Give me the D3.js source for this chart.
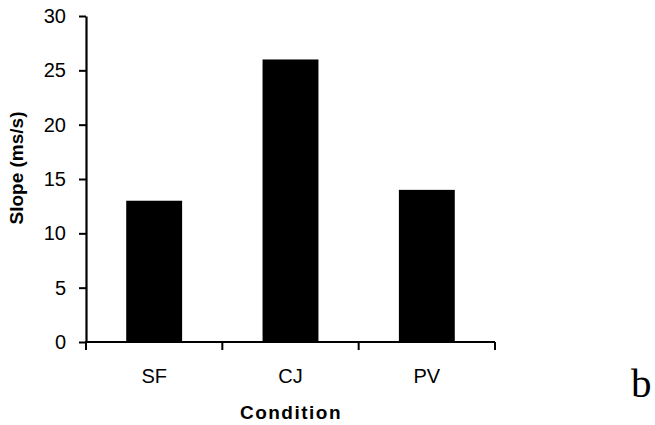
<!DOCTYPE html>
<html>
<head>
<meta charset="utf-8">
<script src="https://cdn.jsdelivr.net/npm/d3@7/dist/d3.min.js"></script>
<style>
  html, body { margin: 0; padding: 0; background: #fff; }
  svg { display: block; }
</style>
</head>
<body>
<script>
// Slope per condition
const categories = ["SF", "CJ", "PV"];
const slopes = [13, 26, 14];
const yTicks = [0, 5, 10, 15, 20, 25, 30];

const W = 655, H = 425;
const plot = { left: 86, right: 495, top: 16, bottom: 342 };

const svg = d3.select("body").append("svg")
  .attr("width", W).attr("height", H);

const x = d3.scaleBand()
  .domain(categories)
  .range([plot.left, plot.right])
  .paddingInner(0.59)
  .paddingOuter(0.295);

const y = d3.scaleLinear()
  .domain([0, 30])
  .range([plot.bottom, plot.top]);

// Bars
svg.append("g").selectAll("rect")
  .data(categories)
  .join("rect")
  .attr("x", d => x(d))
  .attr("width", x.bandwidth())
  .attr("y", (d, i) => y(slopes[i]))
  .attr("height", (d, i) => y(0) - y(slopes[i]))
  .attr("fill", "#000");

const font = "Arial, 'Liberation Sans', sans-serif";

// Y axis
const yAxis = svg.append("g")
  .attr("transform", `translate(${plot.left},0)`)
  .call(d3.axisLeft(y).tickValues(yTicks).tickSize(7).tickPadding(13).tickSizeOuter(0));
yAxis.select(".domain").attr("stroke", "#000").attr("stroke-width", 2.2);
yAxis.selectAll(".tick line").attr("stroke", "#000").attr("stroke-width", 2);
yAxis.selectAll(".tick text")
  .attr("fill", "#000")
  .style("font-family", font)
  .style("font-size", "20px");

// X axis: ticks at category boundaries
const xAxis = svg.append("g")
  .attr("transform", `translate(0,${y(0)})`);
xAxis.append("line")
  .attr("x1", plot.left - 1).attr("x2", plot.right)
  .attr("stroke", "#000").attr("stroke-width", 2.2);
const boundaries = d3.range(categories.length + 1)
  .map(i => plot.left + i * (plot.right - plot.left) / categories.length);
xAxis.selectAll("line.tk")
  .data(boundaries)
  .join("line")
  .attr("class", "tk")
  .attr("x1", d => d).attr("x2", d => d)
  .attr("y1", 0).attr("y2", 8)
  .attr("stroke", "#000").attr("stroke-width", 2);
xAxis.selectAll("text")
  .data(categories)
  .join("text")
  .attr("x", d => x(d) + x.bandwidth() / 2)
  .attr("y", 41)
  .attr("text-anchor", "middle")
  .style("font-family", font)
  .style("font-size", "20px")
  .text(d => d);

// Axis titles
svg.append("text")
  .attr("x", 291).attr("y", 419)
  .attr("text-anchor", "middle")
  .style("font-family", font)
  .style("font-weight", "bold")
  .style("font-size", "19px")
  .style("letter-spacing", "1.5px")
  .text("Condition");

svg.append("text")
  .attr("transform", "translate(23,168) rotate(-90)")
  .attr("text-anchor", "middle")
  .style("font-family", font)
  .style("font-weight", "bold")
  .style("font-size", "19px")
  .text("Slope (ms/s)");

// Panel letter
svg.append("text")
  .attr("x", 631).attr("y", 397)
  .style("font-family", "'Liberation Serif', 'Times New Roman', serif")
  .style("font-size", "41px")
  .text("b");
</script>
</body>
</html>
